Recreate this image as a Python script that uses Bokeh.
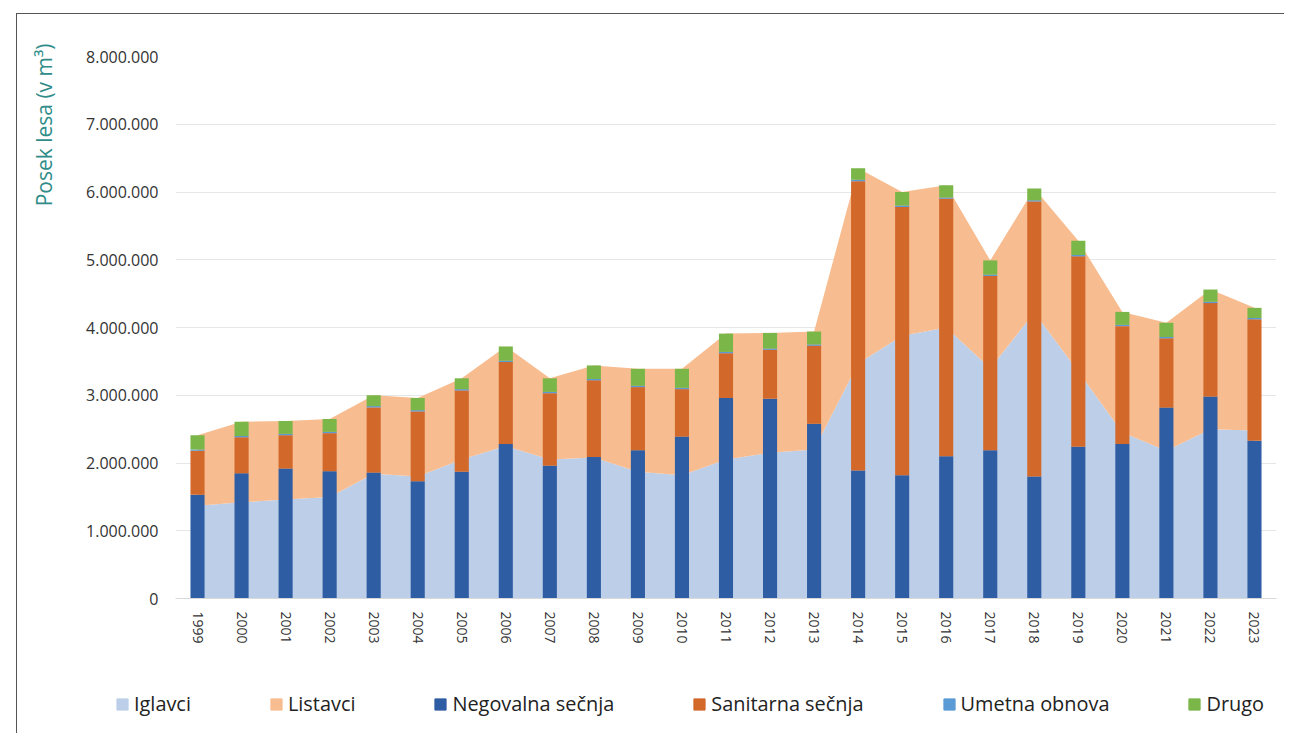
from bokeh.plotting import figure
from bokeh.layouts import column
from bokeh.models import (ColumnDataSource, FactorRange, Range1d, FixedTicker,
                          CustomJSTickFormatter, Legend, LegendItem, Title)
from bokeh.embed import file_html
from bokeh.resources import INLINE

years = [str(y) for y in range(1999, 2024)]

# stacked area (by species), m3
iglavci = [1370000, 1420000, 1460000, 1500000, 1840000, 1800000, 2050000, 2250000, 2050000,
           2080000, 1870000, 1820000, 2050000, 2150000, 2200000, 3470000, 3880000, 4000000,
           3400000, 4220000, 3350000, 2450000, 2180000, 2500000, 2480000]
listavci = [1040000, 1190000, 1160000, 1150000, 1160000, 1160000, 1200000, 1470000, 1200000,
            1360000, 1520000, 1570000, 1860000, 1770000, 1740000, 2880000, 2120000, 2100000,
            1590000, 1830000, 1930000, 1780000, 1890000, 2060000, 1810000]

# stacked bars (by type of felling), m3
negovalna = [1530000, 1850000, 1920000, 1880000, 1860000, 1730000, 1870000, 2280000, 1960000,
             2090000, 2190000, 2390000, 2960000, 2950000, 2580000, 1890000, 1820000, 2100000,
             2190000, 1800000, 2240000, 2280000, 2820000, 2980000, 2330000]
sanitarna = [650000, 530000, 490000, 560000, 960000, 1030000, 1200000, 1210000, 1070000,
             1130000, 930000, 700000, 660000, 720000, 1150000, 4270000, 3960000, 3800000,
             2570000, 4060000, 2810000, 1740000, 1020000, 1380000, 1790000]
umetna = [20000, 20000, 20000, 20000, 20000, 20000, 20000, 20000, 20000,
          20000, 20000, 20000, 20000, 20000, 20000, 20000, 20000, 20000,
          20000, 20000, 20000, 20000, 20000, 20000, 20000]
drugo = [210000, 210000, 190000, 190000, 160000, 180000, 160000, 210000, 200000,
         200000, 250000, 280000, 270000, 230000, 190000, 170000, 200000, 180000,
         210000, 170000, 210000, 190000, 210000, 180000, 150000]

labels = ["Iglavci", "Listavci", "Negovalna sečnja", "Sanitarna sečnja", "Umetna obnova", "Drugo"]
colors = ["#BDCFE8", "#F7BC8F", "#2F5DA3", "#D2682A", "#5B9BD5", "#7AB648"]
y_ticks = [0, 1000000, 2000000, 3000000, 4000000, 5000000, 6000000, 7000000, 8000000]

source = ColumnDataSource(dict(year=years, iglavci=iglavci, listavci=listavci,
                               negovalna=negovalna, sanitarna=sanitarna,
                               umetna=umetna, drugo=drugo))

FONT = "Open Sans"
W = 1268

p = figure(width=W, height=650, x_range=FactorRange(factors=years),
           y_range=Range1d(0, 8000000), output_backend="svg", toolbar_location=None,
           min_border_left=158, min_border_right=9, min_border_top=42, min_border_bottom=66,
           margin=(13, 0, 0, 16))
p.styles = {"border-top": "1px solid #555555", "border-left": "1px solid #555555"}
p.outline_line_color = None
p.background_fill_color = "white"
p.border_fill_color = "white"

areas = p.varea_stack(["iglavci", "listavci"], x="year", source=source, color=colors[:2])
bars = p.vbar_stack(["negovalna", "sanitarna", "umetna", "drugo"], x="year", width=0.32,
                    source=source, color=colors[2:], line_color=None)

# axes
p.yaxis.ticker = FixedTicker(ticks=y_ticks)
p.yaxis.formatter = CustomJSTickFormatter(
    code='return Math.round(tick).toString().replace(/\\B(?=(\\d{3})+(?!\\d))/g, ".");')
p.yaxis.axis_line_color = None
p.yaxis.major_tick_line_color = None
p.yaxis.minor_tick_line_color = None
p.yaxis.major_label_standoff = 11
p.yaxis.major_label_text_font = FONT
p.yaxis.major_label_text_font_size = "16px"
p.yaxis.major_label_text_color = "#333333"
p.yaxis.axis_label = " "
p.yaxis.axis_label_text_font_size = "10px"
p.yaxis.axis_label_standoff = 7

p.xaxis.axis_line_color = "#D9D9D9"
p.xaxis.major_tick_line_color = None
p.xaxis.minor_tick_line_color = None
p.xaxis.major_label_orientation = "vertical"
p.xaxis.major_label_standoff = 7
p.xaxis.major_label_text_font = FONT
p.xaxis.major_label_text_font_size = "14px"
p.xaxis.major_label_text_color = "#333333"

p.xgrid.grid_line_color = None
p.ygrid.grid_line_color = "#E6E6E6"
p.ygrid.grid_line_width = 1

# y title at top-left
t = Title(text="Posek lesa (v m³)", align="right", text_font=FONT, text_font_size="21px",
          text_font_style="normal", text_color="#2F8C88", offset=-13)
p.add_layout(t, "left")

# legend strip (its own full-width frame)
p2 = figure(width=W, height=70, x_range=Range1d(0, 1), y_range=Range1d(0, 1),
            output_backend="svg", toolbar_location=None, min_border=0,
            margin=(0, 0, 0, 16))
p2.frame_align = False
p2.styles = {"border-left": "1px solid #555555"}
p2.axis.visible = False
p2.grid.grid_line_color = None
p2.outline_line_color = None
p2.border_fill_color = "white"
p2.background_fill_color = "white"
dummies = [p2.vbar(x=[5], top=[1], width=0.1, color=c) for c in colors]
legend = Legend(items=[LegendItem(label=l, renderers=[r]) for l, r in zip(labels, dummies)],
                orientation="horizontal", location=(98, 16), spacing=78,
                glyph_width=14, glyph_height=14, label_standoff=5,
                label_text_font=FONT, label_text_font_size="19.9px", label_text_color="#222222",
                padding=0, margin=0, border_line_color=None, background_fill_alpha=0)
p2.add_layout(legend, "center")

layout = column(p, p2, spacing=0)
open("out.html", "w").write(file_html(layout, INLINE))
